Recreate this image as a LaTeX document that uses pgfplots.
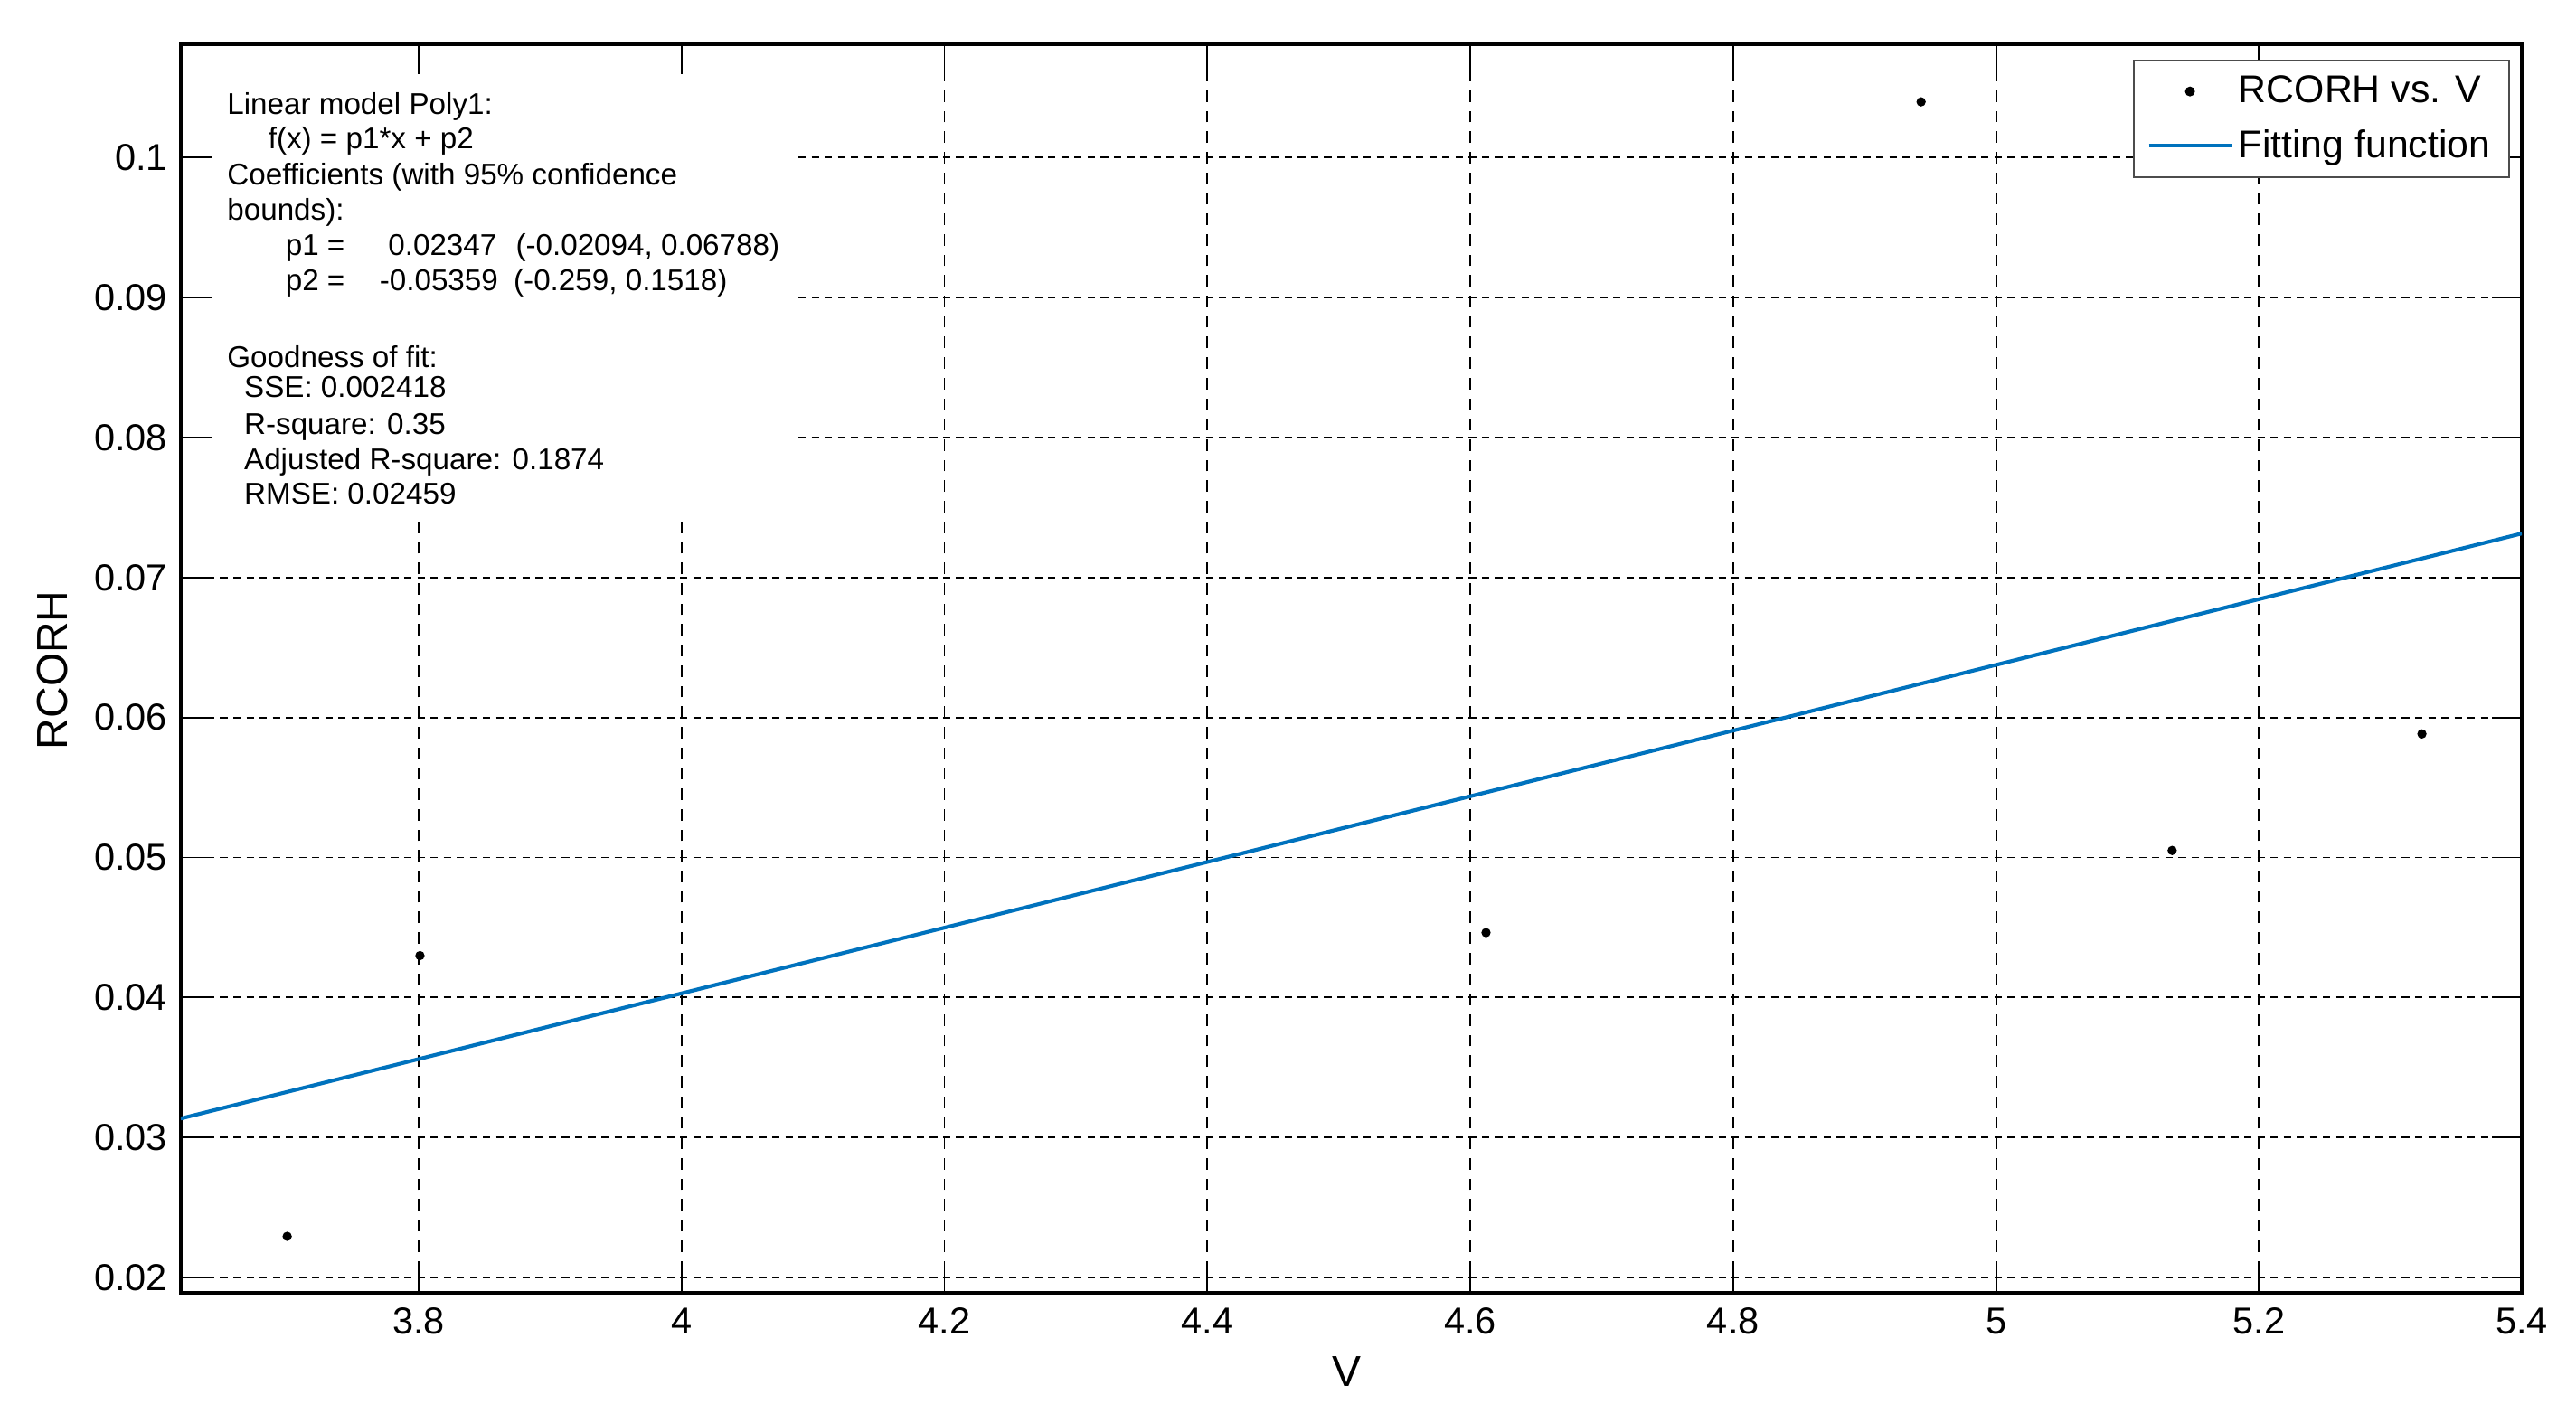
\documentclass[border=0pt]{standalone}
\usepackage{fontspec}
\setmainfont{Liberation Sans}
\usepackage{pgfplots}
\pgfplotsset{compat=1.18}
\definecolor{fitblue}{RGB}{0,114,189}

\newcommand{\boxfont}{\fontsize{10.4pt}{12.5pt}\selectfont}

\begin{document}
\begin{tikzpicture}
\useasboundingbox (-2.2cm,-1.58cm) rectangle (29.16cm,15.74cm);
\begin{axis}[scale only axis,width=28.5cm,height=15.2cm,
  xmin=3.619,xmax=5.4,ymin=0.0189,ymax=0.1081,
  xtick={3.8,4,4.2,4.4,4.6,4.8,5,5.2,5.4},
  xticklabels={3.8,4,4.2,4.4,4.6,4.8,5,5.2,5.4},
  ytick={0.02,0.03,0.04,0.05,0.06,0.07,0.08,0.09,0.1},
  yticklabels={0.02,0.03,0.04,0.05,0.06,0.07,0.08,0.09,0.1},
  tick pos=both,tick align=inside,major tick length=3.6mm,
  tick style={black,line width=0.6pt},
  axis line style={black,line width=1.1pt},
  grid=major,
  major x grid style={black,line width=0.6pt,dash pattern=on 1.4mm off 1.1mm},
  major y grid style={black,line width=0.6pt,dash pattern=on 0.9mm off 0.7mm},
  tick label style={font=\fontsize{13pt}{15pt}\selectfont},
  yticklabel style={xshift=-0.4mm},
  xticklabel style={yshift=-0.6mm},
  xlabel={V},ylabel={RCORH},
  label style={font=\fontsize{15pt}{18pt}\selectfont},
  xlabel style={at={(axis description cs:0.498,-0.063)},anchor=center},
  ylabel style={at={(axis description cs:-0.0547,0.4987)},anchor=center},
  legend style={at={(axis description cs:0.995,0.988)},anchor=north east,
    draw=black!70,line width=0.6pt,fill=white,
    font=\fontsize{13.4pt}{16pt}\selectfont,row sep=1.3mm,
    inner xsep=1.6mm,inner ysep=1.2mm,
    /tikz/every even column/.append style={column sep=1.2mm}},
  legend cell align=left,
]
\addplot[only marks,mark=*,mark size=1.4pt,black,
  legend image code/.code={\fill[black] (0.5cm,0cm) circle (1.4pt);}] coordinates {
  (3.700,0.02293) (3.801,0.04299) (4.612,0.04463)
  (4.943,0.10399) (5.134,0.05050) (5.324,0.05883)};
\addlegendentry{RCORH vs. V}
\addplot[fitblue,line width=1.3pt,
  legend image code/.code={\draw[fitblue,line width=1.3pt] (0cm,0cm) -- (1cm,0cm);}] coordinates {
  (3.619,0.031348) (5.4,0.073148)};
\addlegendentry{Fitting function}

% fit report box
\fill[white] (axis description cs:0.0133,0.6224) rectangle (axis description cs:0.2632,0.9763);
\begin{scope}[every node/.style={anchor=base west,inner sep=0pt,font=\boxfont}]
\node at (axis description cs:0.01965,0.9438) {Linear model Poly1:};
\node at (axis description cs:0.0372,0.9161) {f(x) = p1*x + p2};
\node at (axis description cs:0.01965,0.8871) {Coefficients (with 95\% confidence};
\node at (axis description cs:0.01965,0.8593) {bounds):};
\node at (axis description cs:0.04456,0.8308) {p1 =};
\node at (axis description cs:0.0884,0.8308) {0.02347};
\node at (axis description cs:0.1429,0.8308) {(-0.02094, 0.06788)};
\node at (axis description cs:0.04456,0.8026) {p2 =};
\node at (axis description cs:0.0847,0.8026) {-0.05359};
\node at (axis description cs:0.1420,0.8026) {(-0.259, 0.1518)};
\node at (axis description cs:0.01965,0.7408) {Goodness of fit:};
\node at (axis description cs:0.02688,0.7171) {SSE: 0.002418};
\node at (axis description cs:0.02688,0.6875) {R-square: 0.35};
\node at (axis description cs:0.02688,0.6592) {Adjusted R-square: 0.1874};
\node at (axis description cs:0.02688,0.6316) {RMSE: 0.02459};
\end{scope}
\end{axis}
\end{tikzpicture}
\end{document}
